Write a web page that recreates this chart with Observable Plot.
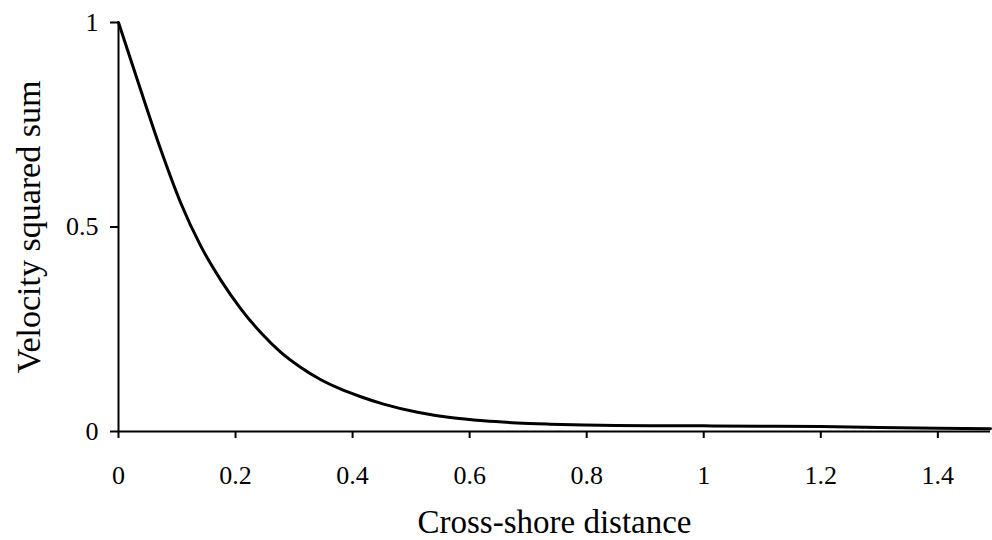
<!DOCTYPE html>
<html>
<head>
<meta charset="utf-8">
<script src="https://cdn.jsdelivr.net/npm/d3@7"></script>
<script src="https://cdn.jsdelivr.net/npm/@observablehq/plot@0.6"></script>
<style>
  html, body { margin: 0; padding: 0; background: #fff; }
  #chart { width: 992px; height: 540px; }
</style>
</head>
<body>
<div id="chart"></div>
<script>
// Cross-shore distance (x) and velocity squared sum (y)
const distance = [0, 0.034, 0.072, 0.106, 0.140, 0.174, 0.209, 0.243, 0.277, 0.311, 0.345, 0.379, 0.414, 0.453, 0.511, 0.567, 0.624, 0.681, 0.738, 0.795, 0.85, 0.909, 1.0, 1.1, 1.2, 1.3, 1.4, 1.49];
const velocitySq = [1.0, 0.852, 0.69, 0.56, 0.455, 0.372, 0.300, 0.242, 0.194, 0.157, 0.127, 0.104, 0.085, 0.067, 0.047, 0.034, 0.026, 0.021, 0.018, 0.0158, 0.0148, 0.0142, 0.0138, 0.013, 0.012, 0.010, 0.008, 0.007];
const xTicks = [0, 0.2, 0.4, 0.6, 0.8, 1, 1.2, 1.4];
const yTicks = [0, 0.5, 1];
const xLabel = "Cross-shore distance";
const yLabel = "Velocity squared sum";

const data = distance.map((d, i) => ({x: d, y: velocitySq[i]}));

const chart = Plot.plot({
  width: 992,
  height: 540,
  marginLeft: 118,
  marginRight: 2,
  marginTop: 22,
  marginBottom: 109,
  style: {fontFamily: "'Liberation Serif', 'DejaVu Serif', serif", color: "#000", background: "#fff"},
  x: {domain: [0, 1.49]},
  y: {domain: [0, 1]},
  marks: [
    Plot.axisX({ticks: xTicks, tickSize: 7, tickPadding: 27, label: null, tickFormat: d => String(d), strokeWidth: 2, fontSize: 26}),
    Plot.axisY({ticks: yTicks, tickSize: 8, tickPadding: 12, label: null, tickFormat: d => String(d), strokeWidth: 2, fontSize: 26}),
    Plot.ruleY([0], {stroke: "#000", strokeWidth: 2}),
    Plot.ruleX([0], {stroke: "#000", strokeWidth: 2}),
    Plot.line(data, {x: "x", y: "y", stroke: "#000", strokeWidth: 3, curve: "monotone-x"}),
    Plot.text([xLabel], {frameAnchor: "bottom", textAnchor: "middle", lineAnchor: "middle", dy: 91, fontSize: 33, text: d => d}),
    Plot.text([yLabel], {frameAnchor: "left", textAnchor: "middle", lineAnchor: "middle", dx: -89, rotate: -90, fontSize: 34, text: d => d})
  ]
});
document.getElementById("chart").appendChild(chart);
</script>
</body>
</html>
